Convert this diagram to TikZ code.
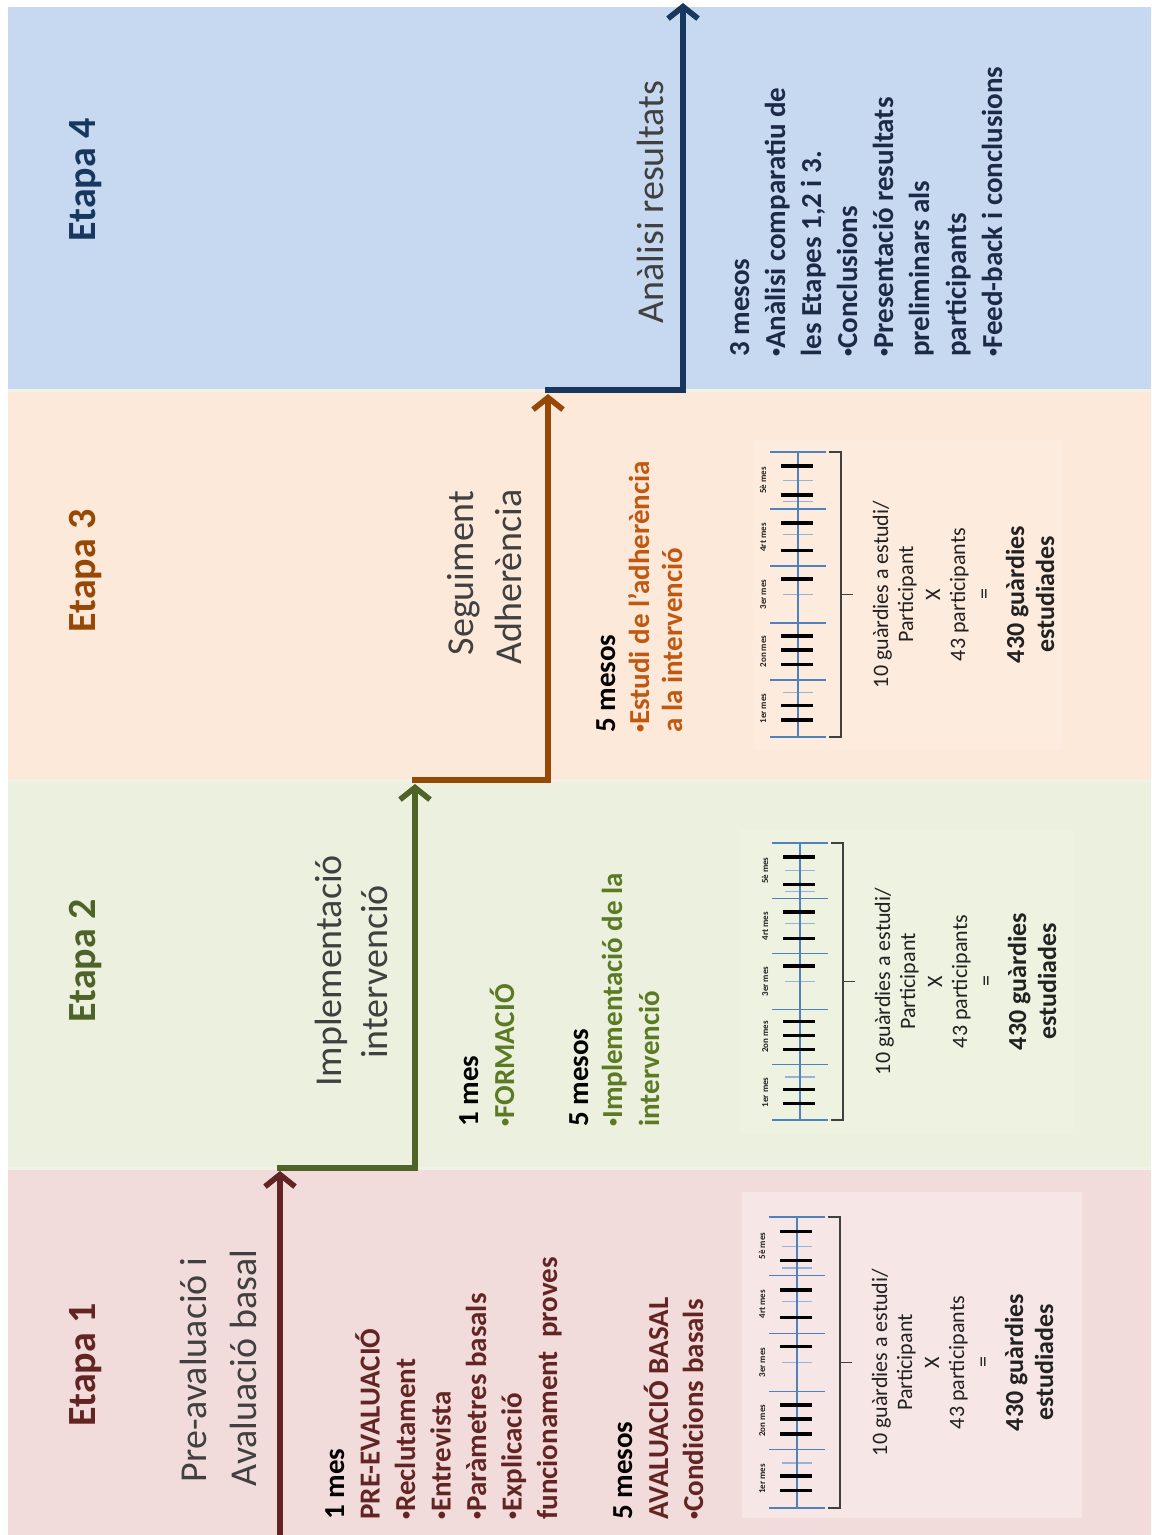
\documentclass[tikz,border=0pt]{standalone}
\usepackage{graphicx}
\usepackage{fontspec}
\setmainfont{Carlito}
\usetikzlibrary{arrows.meta}
\definecolor{bandA}{HTML}{F2DCDB}
\definecolor{bandB}{HTML}{EBF1DE}
\definecolor{bandC}{HTML}{FDE9D9}
\definecolor{bandD}{HTML}{C6D9F1}
\definecolor{colA}{HTML}{632523}
\definecolor{colB}{HTML}{4F6228}
\definecolor{colC}{HTML}{984806}
\definecolor{colD}{HTML}{17375E}
\definecolor{txtB}{HTML}{5B7A23}
\definecolor{txtC}{HTML}{C0580F}
\definecolor{txtD}{HTML}{1C2A48}
\definecolor{subgray}{HTML}{404040}
\definecolor{axblue}{HTML}{4F81BD}
\definecolor{tkblue}{HTML}{95B3D7}
\definecolor{sepcol}{HTML}{F3F0E7}
\definecolor{darktxt}{HTML}{222222}
\newcommand\bul{\raisebox{0.14em}{\scalebox{0.55}{•}}}

\newcommand\chartblock[4]{%
  \pgfmathsetmacro\cL{#3-#4}%
  \pgfmathsetmacro\cM{(#3+#4)/2}%
  \foreach \f in {0,0.2,0.4,0.6,0.8,1}
    \draw[longtk] ({#2-28},{#3-\f*\cL}) -- ({#2+28},{#3-\f*\cL});
  \foreach \f in {0.155,0.5,0.71,0.825,0.9}
    \draw[shorttk] ({#2-15},{#3-\f*\cL}) -- ({#2+15},{#3-\f*\cL});
  \draw[axln] (#2,#3) -- (#2,#4);
  \foreach \f in {0.06,0.11,0.255,0.305,0.355,0.555,0.655,0.75,0.85,0.95}
    \draw[blktk] ({#2-17},{#3-\f*\cL}) -- ({#2+15},{#3-\f*\cL});
  \foreach \f/\t [count=\i] in {0.1/1er mes,0.3/2on mes,0.5/3er mes,0.7/4rt mes,0.9/5è mes}
    \node[mlab] (#1m\i) at ({#2-32},{#3-\f*\cL}) {\t};
  \draw[brk] ({#2+31},#3) -- ({#2+43},#3) -- ({#2+43},#4) -- ({#2+31},#4);
  \draw[brk] ({#2+43},\cM) -- ({#2+55},\cM);
  \node[ctxt] (#1t1) at ({#2+90},\cM) {10 guàrdies a estudi/};
  \node[ctxt] (#1t2) at ({#2+115},\cM) {Participant};
  \node[ctxt] (#1t3) at ({#2+142},\cM) {X};
  \node[ctxt] (#1t4) at ({#2+167},\cM) {43 participants};
  \node[ctxt] (#1t5) at ({#2+193},\cM) {=};
  \node[ctxb] (#1t6) at ({#2+226},\cM) {430 guàrdies};
  \node[ctxb] (#1t7) at ({#2+256},\cM) {estudiades};
}

\begin{document}
\begin{tikzpicture}[x=0.5pt,y=-0.5pt,
  title/.style={rotate=90,inner sep=0pt,anchor=base,font=\fontsize{20}{24}\selectfont\bfseries},
  sub/.style={rotate=90,inner sep=0pt,anchor=base,font=\fontsize{19}{23}\selectfont,text=subgray},
  item/.style={rotate=90,inner sep=0pt,anchor=base west,font=\fontsize{14.5}{17}\selectfont\bfseries},
  mlab/.style={rotate=90,inner sep=0pt,anchor=base,font=\fontsize{4.5}{5}\selectfont\bfseries,text=darktxt},
  ctxt/.style={rotate=90,inner sep=0pt,anchor=base,font=\fontsize{11}{13}\selectfont,text=darktxt},
  ctxb/.style={rotate=90,inner sep=0pt,anchor=base,font=\fontsize{13}{15}\selectfont\bfseries,text=darktxt},
  longtk/.style={draw=axblue,line width=0.6pt},
  shorttk/.style={draw=tkblue,line width=0.6pt},
  axln/.style={draw=axblue,line width=0.9pt},
  blktk/.style={draw=black,line width=1.8pt},
  brk/.style={draw=subgray,line width=0.7pt},
  sep/.style={draw=sepcol,line width=1.5pt},
  stair/.style={line width=2.8pt,line join=miter,-{Straight Barb[length=6pt,width=15pt]}}]
\useasboundingbox (0,0) rectangle (1151,1535);
\fill[white] (0,0) rectangle (1151,1535);
% bands
\fill[bandD] (8,7) rectangle (1151,390);
\fill[bandC] (8,390) rectangle (1151,780);
\fill[bandB] (8,780) rectangle (1151,1168);
\fill[bandA] (8,1168) rectangle (1151,1535);
\draw[sep] (8,390) -- (1151,390);
\draw[sep] (8,780) -- (1151,780);
\draw[sep] (8,1168) -- (1151,1168);
% light panels behind charts
\fill[bandA!72!white] (742,1192) rectangle (1082,1518);
\fill[bandB!92!white] (740,830) rectangle (1073,1133);
\fill[bandC!88!white] (753,440) rectangle (1063,750);

% staircase
\coordinate (p1a) at (280,1535);
\coordinate (p1b) at (280,1171);
\coordinate (p2a) at (277,1168);
\coordinate (p2b) at (415,1168);
\coordinate (p2c) at (415,784);
\coordinate (p3a) at (412,780);
\coordinate (p3b) at (548,780);
\coordinate (p3c) at (548,394);
\coordinate (p4a) at (545,390);
\coordinate (p4b) at (683,390);
\coordinate (p4c) at (683,3);
\draw[stair,colA] (p1a) -- (p1b);
\draw[stair,colB] (p2a) -- (p2b) -- (p2c);
\draw[stair,colC] (p3a) -- (p3b) -- (p3c);
\draw[stair,colD] (p4a) -- (p4b) -- (p4c);

% titles
\node[title,text=colA] (t1) at (95,1365) {Etapa 1};
\node[title,text=colB] (t2) at (95,961) {Etapa 2};
\node[title,text=colC] (t3) at (95,571) {Etapa 3};
\node[title,text=colD] (t4) at (95,180) {Etapa 4};

% phase labels
\node[sub] (s1a) at (206,1370) {Pre-avaluació i};
\node[sub] (s1b) at (256,1368) {Avaluació basal};
\node[sub] (s2a) at (341,971) {Implementació};
\node[sub] (s2b) at (387,972) {intervenció};
\node[sub] (s3a) at (473,573) {Seguiment};
\node[sub] (s3b) at (521,577) {Adherència};
\node[sub] (s4a) at (663,202) {Anàlisi resultats};

% Etapa 1 text
\node[item,text=black] (e1a) at (344,1520) {1 mes};
\node[item,text=colA] (e1b) at (379.5,1520) {PRE-EVALUACIÓ};
\node[item,text=colA] (e1c) at (415,1520) {\bul Reclutament};
\node[item,text=colA] (e1d) at (450.5,1520) {\bul Entrevista};
\node[item,text=colA] (e1e) at (486,1520) {\bul Paràmetres basals};
\node[item,text=colA] (e1f) at (521.5,1520) {\bul Explicació};
\node[item,text=colA] (e1g) at (557,1520) {funcionament\ \ proves};
\node[item,text=black] (e1h) at (632,1520) {5 mesos};
\node[item,text=colA] (e1i) at (668,1520) {AVALUACIÓ BASAL};
\node[item,text=colA] (e1j) at (703,1520) {\bul Condicions basals};

% Etapa 2 text
\node[item,text=black] (e2a) at (478,1127) {1 mes};
\node[item,text=txtB] (e2b) at (514,1127) {\bul FORMACIÓ};
\node[item,text=black] (e2c) at (588,1127) {5 mesos};
\node[item,text=txtB] (e2d) at (622,1127) {\bul Implementació de la};
\node[item,text=txtB] (e2e) at (659,1127) {intervenció};

% Etapa 3 text
\node[item,text=black] (e3a) at (615,733) {5 mesos};
\node[item,text=txtC] (e3b) at (649,733) {\bul Estudi de l’adherència};
\node[item,text=txtC] (e3c) at (682,733) {a la intervenció};

% Etapa 4 text
\node[item,text=txtD] (e4a) at (749,357) {3 mesos};
\node[item,text=txtD] (e4b) at (785,357) {\bul Anàlisi comparatiu de};
\node[item,text=txtD] (e4c) at (821,357) {les Etapes 1,2 i 3.};
\node[item,text=txtD] (e4d) at (857,357) {\bul Conclusions};
\node[item,text=txtD] (e4e) at (893,357) {\bul Presentació resultats};
\node[item,text=txtD] (e4f) at (929,357) {preliminars als};
\node[item,text=txtD] (e4g) at (966,357) {participants};
\node[item,text=txtD] (e4h) at (1002,357) {\bul Feed-back i conclusions};

% charts
\chartblock{ca}{797}{1508}{1217}
\chartblock{cb}{800}{1120}{843}
\chartblock{cc}{798}{737}{452}
\end{tikzpicture}
\end{document}
